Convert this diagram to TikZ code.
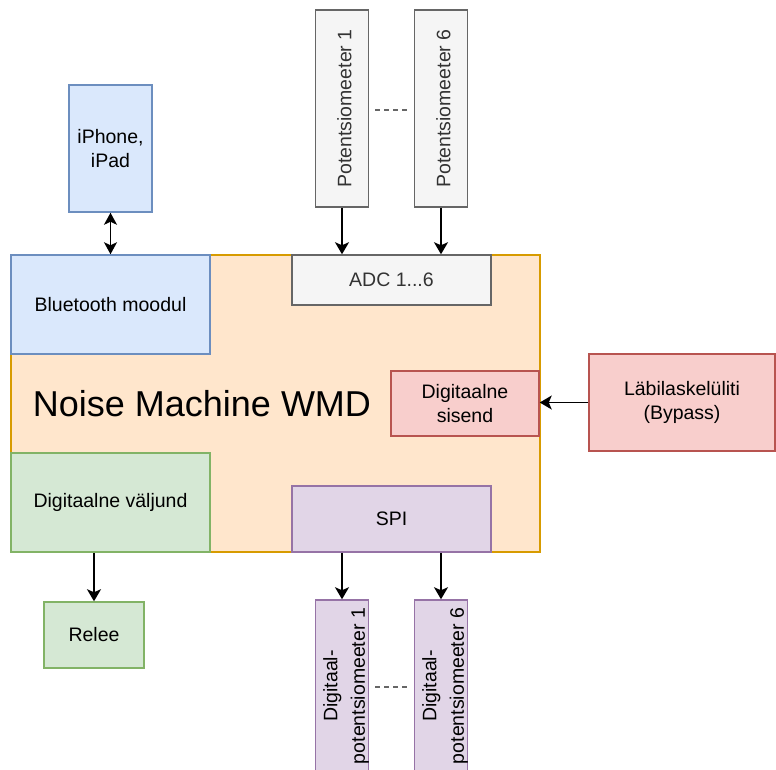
\documentclass[tikz,border=0pt]{standalone}
\usepackage{fontspec}
\setmainfont{Liberation Sans}
\usepackage{tikz}
\usetikzlibrary{arrows.meta}
\definecolor{wmdfill}{HTML}{FFE6CC}
\definecolor{wmdline}{HTML}{D79B00}
\definecolor{bluefill}{HTML}{DAE8FC}
\definecolor{blueline}{HTML}{6C8EBF}
\definecolor{grayfill}{HTML}{F5F5F5}
\definecolor{grayline}{HTML}{666666}
\definecolor{grayfont}{HTML}{333333}
\definecolor{redfill}{HTML}{F8CECC}
\definecolor{redline}{HTML}{B85450}
\definecolor{greenfill}{HTML}{D5E8D4}
\definecolor{greenline}{HTML}{82B366}
\definecolor{violetfill}{HTML}{E1D5E7}
\definecolor{violetline}{HTML}{9673A6}

\tikzset{
  block/.style={draw, line width=1.5pt, inner sep=0pt, align=center,
    font=\fontsize{19.5}{23.5}\selectfont},
  blueblock/.style={block, fill=bluefill, draw=blueline},
  grayblock/.style={block, fill=grayfill, draw=grayline, text=grayfont},
  redblock/.style={block, fill=redfill, draw=redline},
  greenblock/.style={block, fill=greenfill, draw=greenline},
  violetblock/.style={block, fill=violetfill, draw=violetline,
    font=\fontsize{19.5}{27.5}\selectfont},
  flow/.style={-{Stealth[length=12pt, width=14pt, inset=3pt]}, line width=1.6pt},
  bothflow/.style={{Stealth[length=12pt, width=13pt, inset=3pt]}-{Stealth[length=12pt, width=13pt, inset=3pt]}, line width=1.6pt},
  ellipsisline/.style={draw=grayline, line width=1.5pt, dash pattern=on 5pt off 4pt}
}
% rotated label, nudged sideways
\newcommand{\uptext}[2]{\makebox[0pt]{\hspace*{#1}\rotatebox{90}{#2}}}

\begin{document}
\begin{tikzpicture}[x=1pt, y=-1pt]
  \useasboundingbox (0,0) rectangle (776,769);
  \clip (0,0) rectangle (776,769);

  % ══ MAIN BLOCK ══════════════════════════════════════════════
  \node[block, fill=wmdfill, draw=wmdline,
        minimum width=529, minimum height=297] (wmd) at (275.5, 403.5) {};
  \node[font=\fontsize{36}{43}\selectfont] (wmdtitle) at (202, 404)
    {Noise Machine WMD};

  % ══ INNER MODULES ═══════════════════════════════════════════
  \node[blueblock, minimum width=199, minimum height=99] (bt) at (110.5, 304.5)
    {Bluetooth moodul};
  \node[grayblock, minimum width=199, minimum height=50] (adc) at (391.5, 280)
    {ADC 1...6};
  \node[redblock, minimum width=148, minimum height=65] (din) at (465, 403.5)
    {Digitaalne\\sisend};
  \node[greenblock, minimum width=199, minimum height=99] (dout) at (110.5, 502.5)
    {Digitaalne väljund};
  \node[violetblock, minimum width=199, minimum height=66] (spi) at (391.5, 519)
    {SPI};

  % ══ OUTER DEVICES ═══════════════════════════════════════════
  \node[blueblock, minimum width=83, minimum height=127] (phone) at (110.5, 148.5)
    {iPhone,\\iPad};
  \node[grayblock, minimum width=53, minimum height=197] (pot1) at (342, 108.5)
    {\uptext{5pt}{Potentsiomeeter 1}};
  \node[grayblock, minimum width=53, minimum height=197] (pot6) at (441, 108.5)
    {\uptext{5pt}{Potentsiomeeter 6}};
  \node[redblock, minimum width=186, minimum height=97] (bypass) at (682, 402.5)
    {Läbilaskelüliti\\(Bypass)};
  \node[greenblock, minimum width=100, minimum height=66] (relay) at (94, 635)
    {Relee};
  \node[violetblock, minimum width=53, minimum height=172] (dpot1) at (342, 686)
    {\uptext{7pt}{\begin{tabular}{@{}c@{}}Digitaal-\\potentsiomeeter 1\end{tabular}}};
  \node[violetblock, minimum width=53, minimum height=172] (dpot6) at (441, 686)
    {\uptext{7pt}{\begin{tabular}{@{}c@{}}Digitaal-\\potentsiomeeter 6\end{tabular}}};

  % ══ CONNECTORS ══════════════════════════════════════════════
  \draw[bothflow] (phone.south) -- (bt.north);
  \draw[flow] (pot1.south) -- (pot1.south |- adc.north);
  \draw[flow] (pot6.south) -- (pot6.south |- adc.north);
  \draw[flow] (bypass.west) -- (bypass.west -| din.east);
  \draw[flow] (dout.south -| relay.north) -- (relay.north);
  \draw[flow] (dpot1.north |- spi.south) -- (dpot1.north);
  \draw[flow] (dpot6.north |- spi.south) -- (dpot6.north);

  % ══ ELLIPSIS LINES ══════════════════════════════════════════
  \draw[ellipsisline] ([xshift=6pt, yshift=-1.5pt]pot1.east) -- ([xshift=-7pt, yshift=-1.5pt]pot6.west);
  \draw[ellipsisline] ([xshift=6pt, yshift=-1pt]dpot1.east) -- ([xshift=-7pt, yshift=-1pt]dpot6.west);

\end{tikzpicture}
\end{document}
